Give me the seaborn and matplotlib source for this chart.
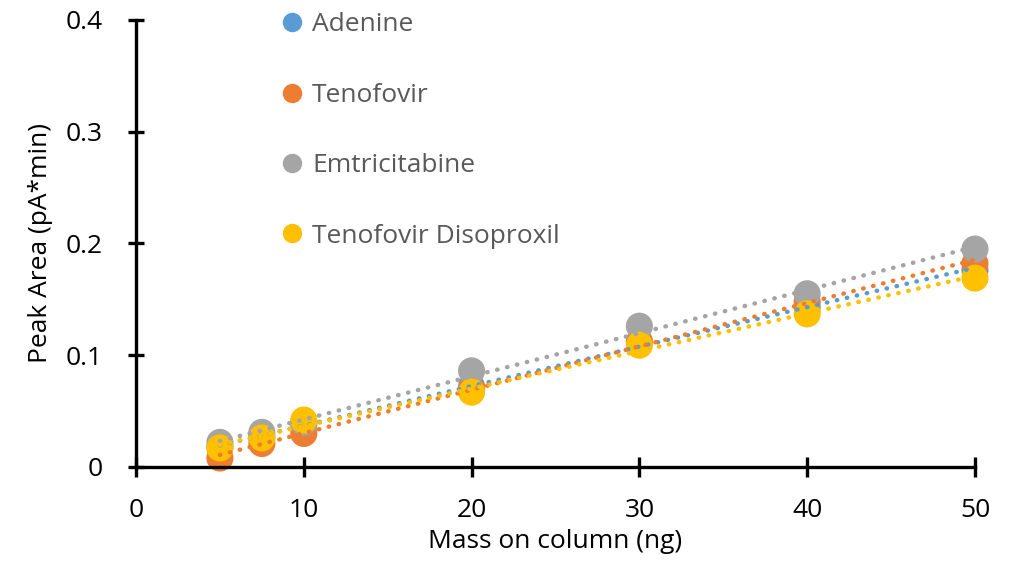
import matplotlib
matplotlib.use("Agg")
import matplotlib.pyplot as plt
import seaborn as sns
import pandas as pd
from matplotlib.lines import Line2D

mass = [5, 7.5, 10, 20, 30, 40, 50]
adenine = [0.018, 0.027, 0.038, 0.072, 0.112, 0.143, 0.176]
tenofovir = [0.008, 0.021, 0.030, 0.070, 0.112, 0.148, 0.182]
emtricitabine = [0.022, 0.031, 0.040, 0.086, 0.126, 0.155, 0.195]
tenofovir_dis = [0.017, 0.026, 0.042, 0.067, 0.109, 0.137, 0.169]

series = ["Adenine", "Tenofovir", "Emtricitabine", "Tenofovir Disoproxil"]
values = [adenine, tenofovir, emtricitabine, tenofovir_dis]
colors = ["#5B9BD5", "#ED7D31", "#A5A5A5", "#FFC000"]

sns.set_style("white")
plt.rcParams['font.family'] = ['Open Sans', 'DejaVu Sans']

fig = plt.figure(figsize=(10.12, 5.69), dpi=100)
ax = fig.add_axes([0.1344, 0.1793, 0.829, 0.7856])

for name, vals, c in zip(series, values, colors):
    df = pd.DataFrame({"x": mass, "y": vals})
    sns.scatterplot(data=df, x="x", y="y", ax=ax, color=c, s=380,
                    edgecolor="none", zorder=3, legend=False, clip_on=False)
for name, vals, c in zip(series, values, colors):
    df = pd.DataFrame({"x": mass, "y": vals})
    sns.regplot(data=df, x="x", y="y", ax=ax, scatter=False, ci=None,
                color=c, line_kws=dict(lw=3.2, ls=(0, (0.1, 2.2)),
                                       dash_capstyle="round",
                                       solid_capstyle="round", zorder=4))

ax.set_xlim(0, 50)
ax.set_ylim(0, 0.4)
ax.set_xticks([0, 10, 20, 30, 40, 50])
ax.set_yticks([0, 0.1, 0.2, 0.3, 0.4])
ax.set_yticklabels(["0", "0.1", "0.2", "0.3", "0.4"])
for s in ["top", "right"]:
    ax.spines[s].set_visible(False)
for s in ["left", "bottom"]:
    ax.spines[s].set_linewidth(2.4)
    ax.spines[s].set_color("black")
    ax.spines[s].set_zorder(5)
ax.tick_params(axis="x", direction="inout", length=14, width=2.4, bottom=True,
               labelsize=19, colors="black", pad=15)
ax.tick_params(axis="y", direction="inout", length=12, width=2.4, left=True,
               labelsize=19, colors="black", pad=18)
ax.set_xlabel("Mass on column (ng)", fontsize=19, color="black", labelpad=5)
ax.set_ylabel("Peak Area (pA*min)", fontsize=19, color="black", labelpad=9)

handles = [Line2D([0], [0], marker="o", ls="none", color=c, markersize=14,
                  markeredgewidth=0) for c in colors]
leg = ax.legend(handles, series, loc="upper left", bbox_to_anchor=(0.142, 1.07),
                frameon=False, labelspacing=1.72, handletextpad=0.25,
                handlelength=1.0, fontsize=19)
for t in leg.get_texts():
    t.set_color("#595959")

fig.savefig("out.png", dpi=100)
